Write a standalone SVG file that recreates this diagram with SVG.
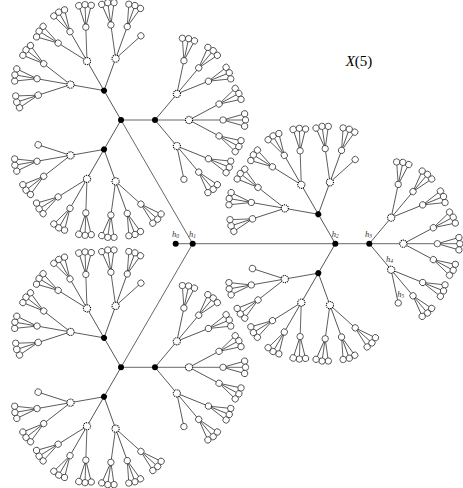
<svg xmlns="http://www.w3.org/2000/svg" xmlns:xlink="http://www.w3.org/1999/xlink" width="463" height="488" viewBox="0 0 463 488">
<style>
line{stroke:#000;stroke-width:0.6}
.lf{fill:#fff;stroke:#000;stroke-width:0.6}
.st{fill:#fff;stroke:#000;stroke-width:1.1;stroke-dasharray:1.1 0.9}
.bk{fill:#000}
.lb{font-family:"Liberation Serif",serif;font-style:italic;font-size:8.5px;fill:#333}
.tt{font-family:"Liberation Serif",serif;font-size:15px;fill:#000}
</style>
<defs>
<g id="mE"><line x2="22.5" transform="rotate(-16)"/><line x2="22.5"/><line x2="22.5" transform="rotate(16)"/></g>
<g id="mN"><circle class="lf" cx="22.5" r="3.2" transform="rotate(-16)"/><circle class="lf" cx="22.5" r="3.2"/><circle class="lf" cx="22.5" r="3.2" transform="rotate(16)"/><circle class="lf" r="3.2"/></g>
<g id="sE"><line x2="34" transform="rotate(-28)"/><line x2="34"/><line x2="34" transform="rotate(28)"/><use xlink:href="#mE" href="#mE" transform="rotate(-28) translate(34)"/><use xlink:href="#mE" href="#mE" transform="translate(34)"/><use xlink:href="#mE" href="#mE" transform="rotate(28) translate(34)"/></g>
<g id="sE2"><line x2="34" transform="rotate(-28)"/><line x2="34"/><line x2="34" transform="rotate(28)"/><use xlink:href="#mE" href="#mE" transform="rotate(-28) translate(34)"/><use xlink:href="#mE" href="#mE" transform="translate(34)"/></g>
<g id="sN"><circle class="st" r="3.6"/><use xlink:href="#mN" href="#mN" transform="rotate(-28) translate(34)"/><use xlink:href="#mN" href="#mN" transform="translate(34)"/><use xlink:href="#mN" href="#mN" transform="rotate(28) translate(34)"/></g>
<g id="sN2"><circle class="st" r="3.6"/><use xlink:href="#mN" href="#mN" transform="rotate(-28) translate(34)"/><use xlink:href="#mN" href="#mN" transform="translate(34)"/><circle class="lf" cx="34" r="3.2" transform="rotate(28)"/></g>
<g id="bE"><line x2="34" transform="rotate(-50)"/><line x2="34"/><line x2="34" transform="rotate(50)"/><use xlink:href="#sE" href="#sE" transform="rotate(-50) translate(34)"/><use xlink:href="#sE" href="#sE" transform="translate(34)"/><use xlink:href="#sE2" href="#sE2" transform="rotate(50) translate(34)"/></g>
<g id="bN"><circle class="bk" r="3"/><use xlink:href="#sN" href="#sN" transform="rotate(-50) translate(34)"/><use xlink:href="#sN" href="#sN" transform="translate(34)"/><use xlink:href="#sN2" href="#sN2" transform="rotate(50) translate(34)"/></g>
<g id="rE"><line x2="34" transform="rotate(-120)"/><line x2="34" transform="rotate(120)"/><line x2="34"/><use xlink:href="#bE" href="#bE" transform="rotate(-120) translate(34)"/><use xlink:href="#bE" href="#bE" transform="rotate(120) translate(34)"/><use xlink:href="#bE" href="#bE" transform="translate(34)"/></g>
<g id="rN"><circle class="bk" r="3"/><use xlink:href="#bN" href="#bN" transform="rotate(-120) translate(34)"/><use xlink:href="#bN" href="#bN" transform="rotate(120) translate(34)"/><use xlink:href="#bN" href="#bN" transform="translate(34)"/></g>
</defs>
<rect width="463" height="488" fill="#fff"/>
<g id="connectors">
<line x1="175.7" y1="243.7" x2="192.7" y2="243.7"/>
<line x1="192.7" y1="243.7" x2="335.3" y2="243.7"/>
<line x1="192.7" y1="243.7" x2="121" y2="120"/>
<line x1="192.7" y1="243.7" x2="121" y2="367.3"/>
<use xlink:href="#rE" href="#rE" transform="translate(121,120)"/>
<use xlink:href="#rE" href="#rE" transform="translate(121,367.3)"/>
<use xlink:href="#rE" href="#rE" transform="translate(335.3,243.7)"/>
</g>
<g id="nodes">
<g id="h0"><circle class="bk" cx="175.7" cy="243.7" r="3"/></g>
<g id="h1"><circle class="bk" cx="192.7" cy="243.7" r="3"/></g>
<g id="upper-branch"><use xlink:href="#rN" href="#rN" transform="translate(121,120)"/></g>
<g id="lower-branch"><use xlink:href="#rN" href="#rN" transform="translate(121,367.3)"/></g>
<g id="h2-branch"><use xlink:href="#rN" href="#rN" transform="translate(335.3,243.7)"/></g>
</g>
<g id="labels">
<text class="lb" x="172" y="236.5">h<tspan font-size="5.5" dy="1.2">0</tspan></text>
<text class="lb" x="189" y="236.5">h<tspan font-size="5.5" dy="1.2">1</tspan></text>
<text class="lb" x="331.7" y="236.5">h<tspan font-size="5.5" dy="1.2">2</tspan></text>
<text class="lb" x="365" y="236.5">h<tspan font-size="5.5" dy="1.2">3</tspan></text>
<text class="lb" x="386" y="261.8">h<tspan font-size="5.5" dy="1.2">4</tspan></text>
<text class="lb" x="397.3" y="296.8">h<tspan font-size="5.5" dy="1.2">5</tspan></text>
<text class="tt" x="345.7" y="65.5"><tspan font-style="italic">X</tspan>(5)</text>
</g>
</svg>
